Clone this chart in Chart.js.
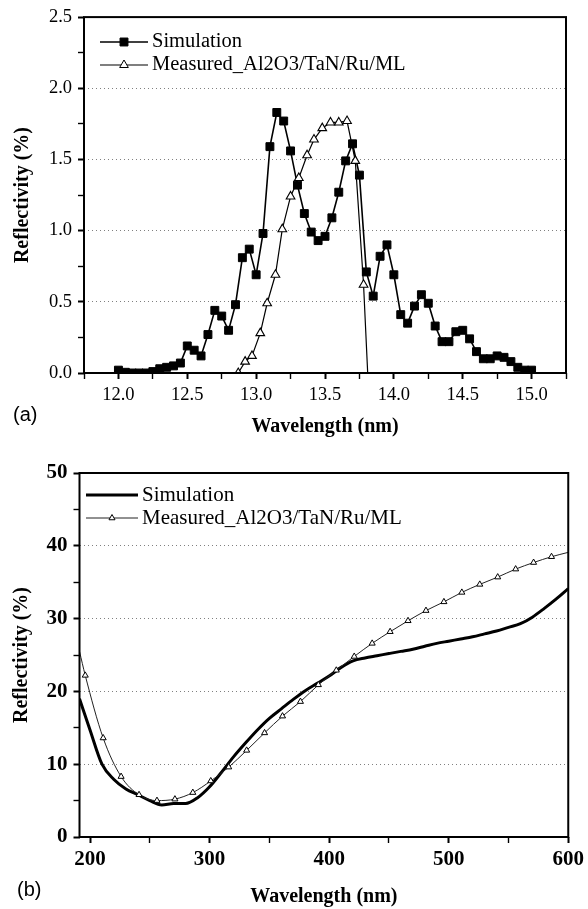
<!DOCTYPE html>
<html>
<head>
<meta charset="utf-8">
<script src="https://cdn.jsdelivr.net/npm/chart.js@4.4.1/dist/chart.umd.min.js"></script>
<style>
  body { margin: 0; background: #fff; width: 588px; height: 909px; position: relative; overflow: hidden; }
  canvas { position: absolute; left: 0; }
  #chartA { top: 0; }
  #chartB { top: 445px; }
  .tag { position: absolute; font-family: "Liberation Sans", Arial, sans-serif; font-size: 20px; color: #000; line-height: 23px; }
</style>
</head>
<body>
<canvas id="chartA" width="588" height="445"></canvas>
<canvas id="chartB" width="588" height="464"></canvas>
<div class="tag" style="left:13px; top:403px;">(a)</div>
<div class="tag" style="left:17px; top:878px;">(b)</div>
<script>
var legendLabels = ["Simulation", "Measured_Al2O3/TaN/Ru/ML"];

// (a) EUV band
var simWaveA = [12.0, 12.05, 12.1, 12.15, 12.2, 12.25, 12.3, 12.35, 12.4, 12.45,
  12.5, 12.55, 12.6, 12.65, 12.7, 12.75, 12.8, 12.85, 12.9, 12.95,
  13.0, 13.05, 13.1, 13.15, 13.2, 13.25, 13.3, 13.35, 13.4, 13.45,
  13.5, 13.55, 13.6, 13.65, 13.7, 13.75, 13.8, 13.85, 13.9, 13.95,
  14.0, 14.05, 14.1, 14.15, 14.2, 14.25, 14.3, 14.35, 14.4, 14.45,
  14.5, 14.55, 14.6, 14.65, 14.7, 14.75, 14.8, 14.85, 14.9, 14.95, 15.0];
var simReflA = [0.02, 0.005, 0.0, 0.0, 0.0, 0.01, 0.03, 0.04, 0.05, 0.07,
  0.19, 0.16, 0.12, 0.27, 0.44, 0.40, 0.30, 0.48, 0.81, 0.87,
  0.69, 0.98, 1.59, 1.83, 1.77, 1.56, 1.32, 1.12, 0.99, 0.93,
  0.96, 1.09, 1.27, 1.49, 1.61, 1.39, 0.71, 0.54, 0.82, 0.90,
  0.69, 0.41, 0.35, 0.47, 0.55, 0.49, 0.33, 0.22, 0.22, 0.29,
  0.30, 0.24, 0.15, 0.10, 0.10, 0.12, 0.11, 0.08, 0.04, 0.02, 0.02];
var measWaveA = [12.87, 12.92, 12.97, 13.03, 13.08, 13.14, 13.19, 13.25, 13.31,
  13.37, 13.42, 13.48, 13.54, 13.6, 13.66, 13.72, 13.78, 13.81];
var measReflA = [0.0, 0.08, 0.12, 0.28, 0.49, 0.69, 1.01, 1.24, 1.37,
  1.53, 1.64, 1.72, 1.76, 1.76, 1.77, 1.49, 0.62, 0.0];

// (b) UV-visible band
var simWaveB = [191.2, 200, 210, 220, 230, 240, 250, 260, 270, 280, 290, 300, 310, 320,
  330, 340, 350, 360, 370, 380, 390, 400, 410, 420, 430, 440, 450, 460, 470, 480,
  490, 500, 510, 520, 530, 540, 550, 560, 570, 580, 590, 600];
var simReflB = [19.0, 14.7, 10.0, 7.9, 6.6, 5.8, 5.0, 4.4, 4.6, 4.6, 5.4, 6.9, 8.9, 11.0,
  12.9, 14.7, 16.3, 17.6, 18.9, 20.1, 21.1, 22.1, 23.3, 24.2, 24.6, 24.9, 25.2, 25.5, 25.8, 26.2,
  26.6, 26.9, 27.2, 27.5, 27.9, 28.3, 28.8, 29.3, 30.2, 31.4, 32.7, 34.1];
var measWaveB = [191.2, 196, 211, 226, 241, 256, 271, 286, 301, 316, 331, 346, 361, 376,
  391, 406, 421, 436, 451, 466, 481, 496, 511, 526, 541, 556, 571, 586, 600];
var measReflB = [25.5, 22.2, 13.6, 8.3, 5.8, 5.0, 5.2, 6.1, 7.7, 9.6, 11.9, 14.3, 16.6, 18.6,
  20.9, 22.9, 24.8, 26.6, 28.2, 29.7, 31.1, 32.3, 33.6, 34.7, 35.7, 36.8, 37.7, 38.5, 39.1];

Chart.defaults.font.family = '"Liberation Serif", "Times New Roman", serif';
Chart.defaults.color = "#000";

function pts(xs, ys) {
  return xs.map(function (x, i) { return { x: x, y: ys[i] }; });
}
function isMajor(v, m) {
  return Math.abs(v / m - Math.round(v / m)) < 1e-6;
}

// frame round the plot plus the hand drawn legend
var framePlugin = {
  id: "frame",
  afterDraw: function (chart, args, opts) {
    var c = chart.ctx, a = chart.chartArea;
    c.save();
    c.lineWidth = 2;
    c.strokeStyle = "#000";
    c.strokeRect(a.left, a.top, a.right - a.left, a.bottom - a.top);

    c.font = opts.font;
    c.textBaseline = "middle";
    c.textAlign = "left";
    chart.data.datasets.forEach(function (ds, i) {
      var y = opts.y[i];
      var mx = (opts.x0 + opts.x1) / 2;
      c.beginPath();
      c.lineWidth = ds.borderWidth;
      c.strokeStyle = ds.borderColor;
      c.moveTo(opts.x0, y);
      c.lineTo(opts.x1, y);
      c.stroke();
      var r = opts.marker[i];
      if (r) {
        c.lineWidth = 1;
        c.fillStyle = ds.pointBackgroundColor;
        c.strokeStyle = "#000";
        c.beginPath();
        if (ds.pointStyle === "rect") {
          var s = r * Math.SQRT1_2;
          c.rect(mx - s, y - s, 2 * s, 2 * s);
        } else {
          c.moveTo(mx, y - r);
          c.lineTo(mx + r * 0.866, y + r * 0.5);
          c.lineTo(mx - r * 0.866, y + r * 0.5);
          c.closePath();
        }
        c.fill();
        c.stroke();
      }
      c.fillStyle = "#000";
      c.fillText(ds.label, opts.tx, y);
    });
    c.restore();
  },
};

function gridColor(major, max) {
  return function (c) {
    var v = c.tick ? c.tick.value : null;
    if (v === null) return "rgba(0,0,0,0)";
    return isMajor(v, major) && v > 0 && v < max ? "#808080" : "rgba(0,0,0,0)";
  };
}
function tickW(major) {
  return function (c) {
    return c.tick && isMajor(c.tick.value, major) ? 2 : 1.4;
  };
}

// chart (a)
new Chart(document.getElementById("chartA"), {
  type: "line",
  data: {
    datasets: [
      {
        label: legendLabels[0],
        data: pts(simWaveA, simReflA),
        borderColor: "#000",
        borderWidth: 1.6,
        pointStyle: "rect",
        pointRadius: 5.6,
        pointBackgroundColor: "#000",
        pointBorderColor: "#000",
        pointBorderWidth: 1,
        tension: 0,
        order: 2,
      },
      {
        label: legendLabels[1],
        data: pts(measWaveA, measReflA),
        borderColor: "#000",
        borderWidth: 1.2,
        pointStyle: "triangle",
        pointRadius: function (c) {
          return c.dataIndex === measWaveA.length - 1 ? 0 : 5;
        },
        pointBackgroundColor: "#fff",
        pointBorderColor: "#000",
        pointBorderWidth: 1.1,
        tension: 0,
        order: 1,
      },
    ],
  },
  options: {
    responsive: false,
    animation: false,
    layout: { padding: { top: 16, right: 22, left: 0, bottom: 0 } },
    plugins: {
      legend: { display: false },
      tooltip: { enabled: false },
      frame: { font: '20.5px "Liberation Serif", serif', x0: 100, x1: 148, tx: 152, y: [42, 65], marker: [5.6, 5] },
    },
    scales: {
      x: {
        type: "linear",
        min: 11.75,
        max: 15.25,
        afterFit: function (s) { s.height = 72; },
        grid: { drawOnChartArea: false, tickLength: 6, tickColor: "#000", tickWidth: tickW(0.5) },
        border: { display: false },
        ticks: {
          stepSize: 0.25, autoSkip: false, includeBounds: false, maxRotation: 0, padding: 5,
          font: { size: 18.5 },
          callback: function (v) { return isMajor(v, 0.5) ? v.toFixed(1) : ""; },
        },
        title: { display: true, text: "Wavelength (nm)", font: { size: 20, weight: "bold" }, padding: { top: 0, bottom: 6 } },
      },
      y: {
        min: 0,
        max: 2.5,
        afterFit: function (s) { s.width = 84; },
        grid: { color: gridColor(0.5, 2.5), lineWidth: 1, tickLength: 6, tickColor: "#000", tickWidth: tickW(0.5) },
        border: { display: false, dash: [1, 3] },
        ticks: {
          stepSize: 0.25, autoSkip: false, includeBounds: false, padding: 6,
          font: { size: 18.5 },
          callback: function (v) { return isMajor(v, 0.5) ? v.toFixed(1) : ""; },
        },
        title: { display: true, text: "Reflectivity (%)", font: { size: 20, weight: "bold" }, padding: { top: 10.5, bottom: 0 } },
      },
    },
  },
  plugins: [framePlugin],
});

// chart (b)
new Chart(document.getElementById("chartB"), {
  type: "line",
  data: {
    datasets: [
      {
        label: legendLabels[0],
        data: pts(simWaveB, simReflB),
        borderColor: "#000",
        borderWidth: 3,
        pointRadius: 0,
        cubicInterpolationMode: "monotone",
        order: 2,
      },
      {
        label: legendLabels[1],
        data: pts(measWaveB, measReflB),
        borderColor: "#222",
        borderWidth: 1,
        pointStyle: "triangle",
        pointRadius: function (c) {
          return c.dataIndex === 0 || c.dataIndex === measWaveB.length - 1 ? 0 : 3.5;
        },
        pointBackgroundColor: "#fff",
        pointBorderColor: "#000",
        pointBorderWidth: 1,
        cubicInterpolationMode: "monotone",
        order: 1,
      },
    ],
  },
  options: {
    responsive: false,
    animation: false,
    layout: { padding: { top: 28, right: 19, left: 0, bottom: 0 } },
    plugins: {
      legend: { display: false },
      tooltip: { enabled: false },
      frame: { font: '21px "Liberation Serif", serif', x0: 86, x1: 138, tx: 142, y: [50, 73], marker: [0, 3.5] },
    },
    scales: {
      x: {
        type: "linear",
        min: 191.2,
        max: 600,
        afterFit: function (s) { s.height = 72; },
        grid: { drawOnChartArea: false, tickLength: 6, tickColor: "#000", tickWidth: tickW(100) },
        border: { display: false },
        ticks: {
          stepSize: 50, autoSkip: false, includeBounds: false, maxRotation: 0, padding: 4,
          font: { size: 21, weight: "bold" },
          callback: function (v) { return isMajor(v, 100) ? String(v) : ""; },
        },
        title: { display: true, text: "Wavelength (nm)", font: { size: 20, weight: "bold" }, padding: { top: 0, bottom: 0 } },
      },
      y: {
        min: 0,
        max: 50,
        afterFit: function (s) { s.width = 79.5; },
        grid: { color: gridColor(10, 50), lineWidth: 1, tickLength: 6, tickColor: "#000", tickWidth: tickW(10) },
        border: { display: false, dash: [1, 3] },
        ticks: {
          stepSize: 5, autoSkip: false, includeBounds: false, padding: 6,
          font: { size: 21, weight: "bold" },
          callback: function (v) { return isMajor(v, 10) ? String(v) : ""; },
        },
        title: { display: true, text: "Reflectivity (%)", font: { size: 20, weight: "bold" }, padding: { top: 9.5, bottom: 0 } },
      },
    },
  },
  plugins: [framePlugin],
});
</script>
</body>
</html>
